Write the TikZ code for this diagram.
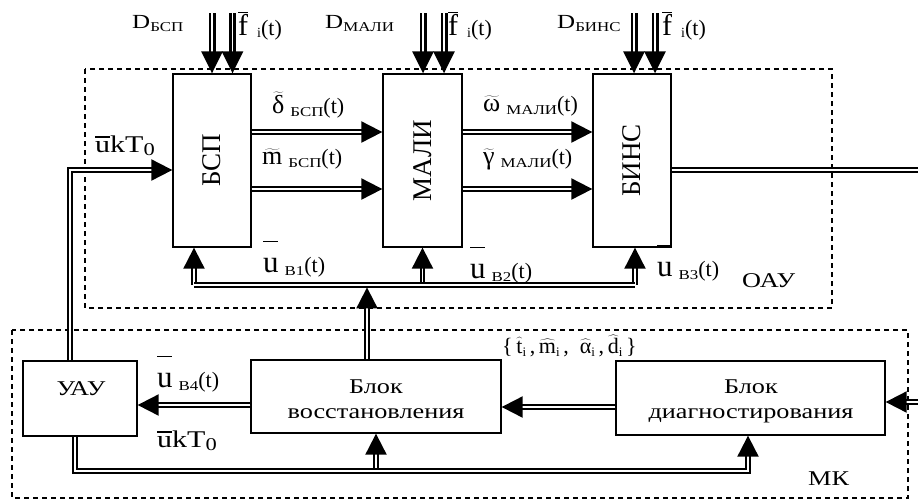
\documentclass[tikz,border=0pt]{standalone}
\usepackage{fontspec}
\setmainfont{Liberation Serif}[FakeStretch=1.25]
\newfontfamily\plainf{Liberation Serif}
\usetikzlibrary{arrows.meta}
\newcommand\fsz[1]{\fontsize{#1}{#1}\selectfont}
\newcommand\lsub[1]{\raisebox{-3.5pt}{\fsz{13.5}#1}}
\newcommand\ubr[1]{\rlap{\raisebox{#1}{\rule{15pt}{1.1pt}}}}
\newcommand\fbarlbl{{\plainf\fsz{30}$\overline{\hbox{f}}$\hspace{9pt}\raisebox{-2pt}{\fsz{14}i}\fsz{22}(t)}}
\newcommand\ulbl[1]{{\plainf\fsz{31}\ubr{30pt}u}\hspace{6pt}\lsub{#1}{\plainf\fsz{22}(t)}}
\newcommand\ukt{{\fsz{24}\ubr{14.5pt}ukT\raisebox{-3pt}{\fsz{18}0}}}
\newcommand\tildl[1]{{\plainf\fsz{26}$\widetilde{\hbox{#1}}$}}
\newcommand\hatl[1]{$\widehat{\hbox{#1}}$\raisebox{-3pt}{\fsz{13}i}}
\begin{document}
\begin{tikzpicture}[x=1pt,y=-1pt,
  box/.style={draw, line width=1.3pt, inner sep=0pt, align=center},
  grp/.style={draw, dash pattern=on 5pt off 4pt, line width=1.2pt},
  dbl/.style={double, line width=2pt, double distance=1.5pt},
  dar/.style={dbl, -{Triangle[length=21pt,width=21pt]}},
  tin/.style={double, line width=2.6pt, double distance=1.8pt, -{Triangle[length=22pt,width=21pt]}},
  lbl/.style={inner sep=0pt, anchor=base west},
  btxt/.style={inner sep=0pt, anchor=base, font=\fsz{21}}]
\useasboundingbox (0,0) rectangle (918,499);

% group frames
\draw[grp] (85,69) rectangle (832,308);
\draw[grp] (12,330) rectangle (908,498);

% blocks
\node[box, minimum width=78pt, minimum height=173pt] (bsp) at (212,160.5) {\rotatebox{90}{\plainf\fsz{27}БСП}};
\node[box, minimum width=79pt, minimum height=173pt] (mali) at (422.5,160.5) {\rotatebox{90}{\plainf\fsz{27}МАЛИ}};
\node[box, minimum width=78pt, minimum height=173pt] (binc) at (632,160.5) {\rotatebox{90}{\plainf\fsz{27}БИНС}};
\node[box, minimum width=114pt, minimum height=75pt] (uau) at (80,398.5) {};
\node[btxt] (uaut) at (81,395) {УАУ};
\node[box, minimum width=250pt, minimum height=73pt] (bv) at (376,396.5) {};
\node[btxt] (bvt1) at (376,393) {Блок};
\node[btxt] (bvt2) at (376,418) {восстановления};
\node[box, minimum width=269pt, minimum height=74pt] (dg) at (750.5,398) {};
\node[btxt] (dgt1) at (751,393) {Блок};
\node[btxt] (dgt2) at (751,418) {диагностирования};

% top inputs
\coordinate (ia1) at (212,13); \coordinate (ia2) at (232.5,13);
\coordinate (ib1) at (423,13); \coordinate (ib2) at (444,13);
\coordinate (ic1) at (634,13); \coordinate (ic2) at (655,13);
\foreach \p/\b in {ia1/bsp,ia2/bsp,ib1/mali,ib2/mali,ic1/binc,ic2/binc}
  \draw[tin] (\p) -- (\p |- \b.north);

% arrows between blocks
\draw[dar] (bsp.east |- 0,132) -- (mali.west |- 0,132);
\draw[dar] (bsp.east |- 0,189) -- (mali.west |- 0,189);
\draw[dar] (mali.east |- 0,132) -- (binc.west |- 0,132);
\draw[dar] (mali.east |- 0,189) -- (binc.west |- 0,189);

% output of BINS
\coordinate (out) at (918,170);
\draw[dbl] (binc.east |- out) -- (out);

% ukT0 to BSP
\coordinate (c1) at (70,170);
\draw[dar] (uau.north -| c1) -- (c1) -- (bsp.west |- c1);

% bus of corrections
\coordinate (busL) at (194,285);
\coordinate (busR) at (635,285);
\coordinate (busJ) at (367,287.4);
\draw[dar] (busL) -- (busL |- bsp.south);
\draw[dar] (mali.south |- busL) -- (mali.south);
\draw[dar] (busR) -- (busR |- binc.south);
\draw[dbl] (busL) -- (busR);
\draw[dar] (bv.north -| busJ) -- (busJ);

% lower connections
\draw[dar] (bv.west |- 0,405) -- (uau.east |- 0,405);
\draw[dar] (dg.west |- 0,407) -- (bv.east |- 0,407);
\coordinate (inR) at (918,402);
\draw[dar] (inR) -- (dg.east |- inR);
\coordinate (b1) at (75,471);
\coordinate (b2) at (748,471);
\draw[dar] (b1 -| bv.south) -- (bv.south);
\draw[dar] (uau.south -| b1) -- (b1) -- (b2) -- (b2 |- dg.south);

% labels
\node[lbl] (d1) at (132,28) {\fsz{20}D\lsub{БСП}};
\node[lbl] (f1) at (238,35) {\fbarlbl};
\node[lbl] (d2) at (325,28) {\fsz{20}D\lsub{МАЛИ}};
\node[lbl] (f2) at (448,35) {\fbarlbl};
\node[lbl] (d3) at (557,28) {\fsz{20}D\lsub{БИНС}};
\node[lbl] (f3) at (662,35) {\fbarlbl};

\node[lbl] (l1) at (272,113) {\tildl{δ}\hspace{6pt}\lsub{БСП}{\plainf\fsz{22}(t)}};
\node[lbl] (l2) at (262,164) {\tildl{m}\hspace{6pt}\lsub{БСП}{\plainf\fsz{22}(t)}};
\node[lbl] (l3) at (483,111) {\tildl{ω}\hspace{6pt}\lsub{МАЛИ}{\plainf\fsz{22}(t)}};
\node[lbl] (l4) at (483,164) {\tildl{γ}\hspace{6pt}\lsub{МАЛИ}{\plainf\fsz{22}(t)}};

\node[lbl] (k1) at (95,152) {\ukt};
\node[lbl] (k2) at (157,447) {\ukt};

\node[lbl] (u1) at (263,272) {\ulbl{В1}};
\node[lbl] (u2) at (470,278) {\ulbl{В2}};
\node[lbl] (u3) at (657,276) {\ulbl{В3}};
\node[lbl] (u4) at (157,387) {\ulbl{В4}};

\node[lbl] (oau) at (742,287) {\fsz{21}ОАУ};
\node[lbl] (mk) at (808,485) {\fsz{21}МК};

\node[lbl] (est) at (502,353) {\plainf\fsz{22}\{\,\hatl{t}\,,\,\hatl{m}\,,\ \ \hatl{α}\,,\,\hatl{d}\,\}};
\end{tikzpicture}
\end{document}
